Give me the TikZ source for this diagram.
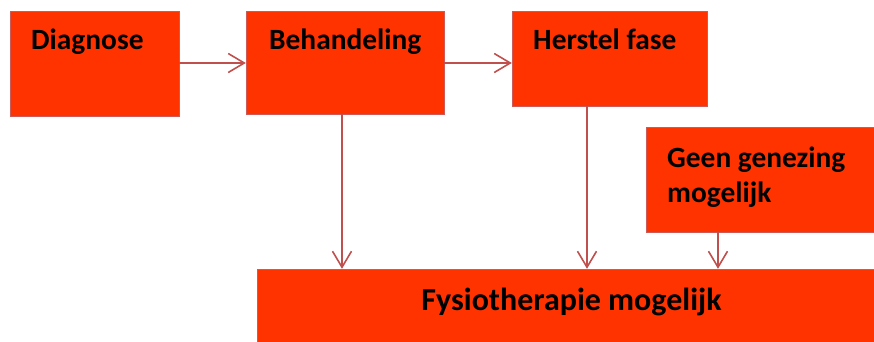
\documentclass[tikz,border=0pt]{standalone}
\usepackage{fontspec}
\setmainfont{Carlito}
\usetikzlibrary{arrows.meta}
\definecolor{boxfill}{RGB}{255,51,0}
\definecolor{boxline}{RGB}{205,90,85}
\definecolor{arrowcol}{RGB}{192,80,77}
\tikzset{
  box/.style={draw=boxline, line width=0.8pt, fill=boxfill},
  lbl/.style={inner sep=0pt, font=\bfseries\fontsize{29.4}{36}\selectfont, text=black},
  biglbl/.style={inner sep=0pt, font=\bfseries\fontsize{32}{38}\selectfont, text=black},
  arr/.style={draw=arrowcol, line width=1.6pt, -{Straight Barb[length=16pt,width=19pt,line width=1.6pt]}},
}
\begin{document}
\begin{tikzpicture}[x=1pt,y=-1pt]
\clip (0,0) rectangle (874,342);
\fill[white] (0,0) rectangle (874,342);
% boxes
\path[box] (10,11) rectangle (179,116);
\node[inner sep=0pt, minimum width=169pt, minimum height=105pt] (diag) at (94.5,63.5) {};
\path[box] (246,11) rectangle (444,114);
\node[inner sep=0pt, minimum width=198pt, minimum height=103pt] (beh) at (345,62.5) {};
\path[box] (512,11) rectangle (707,106);
\node[inner sep=0pt, minimum width=195pt, minimum height=95pt] (her) at (609.5,58.5) {};
\path[box] (646,127) rectangle (880,232);
\node[inner sep=0pt, minimum width=234pt, minimum height=105pt] (geen) at (763,179.5) {};
\path[box] (257,269) rectangle (880,350);
\node[inner sep=0pt, minimum width=623pt, minimum height=81pt] (fys) at (568.5,309.5) {};
% labels
\node[lbl, anchor=base west] (tdiag) at (31,50) {Diagnose};
\node[lbl, anchor=base west] (tbeh) at (269,50) {Behandeling};
\node[lbl, anchor=base west] (ther) at (533,50) {Herstel fase};
\node[lbl, anchor=base west] (tgeen1) at (667,167) {Geen genezing};
\node[lbl, anchor=base west] (tgeen2) at (667,202) {mogelijk};
\node[biglbl, anchor=base] (tfys) at (571.5,310) {Fysiotherapie mogelijk};
% connector anchor columns
\coordinate (c1) at (342,0);
\coordinate (c2) at (587,0);
\coordinate (c3) at (718,0);
\coordinate (r1) at (0,63);
% arrows
\draw[arr] (diag.east |- r1) -- (beh.west |- r1);
\draw[arr] (beh.east |- r1) -- (her.west |- r1);
\draw[arr] (beh.south -| c1) -- (fys.north -| c1);
\draw[arr] (her.south -| c2) -- (fys.north -| c2);
\draw[arr] (geen.south -| c3) -- (fys.north -| c3);
\end{tikzpicture}
\end{document}
